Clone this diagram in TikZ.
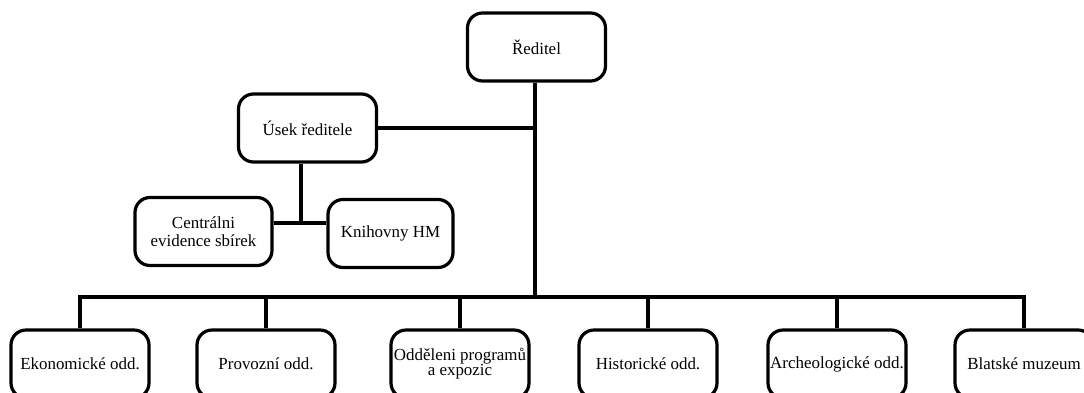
\documentclass[tikz,border=0pt]{standalone}
\usepackage{fontspec}
\setmainfont{Liberation Serif}
\begin{document}
\begin{tikzpicture}[x=1bp,y=-1bp,
  box/.style={draw, line width=3.2bp, rounded corners=15bp, minimum width=138bp, minimum height=68bp, inner sep=1bp, align=center, font=\fontsize{17}{18}\selectfont},
  conn/.style={line width=3.2bp}]
\useasboundingbox (0,0) rectangle (1084,392);
\node[box] (red) at (536.5,47) {Ředitel};
\node[box] (usek) at (307.5,128) {Úsek ředitele};
\node[box, minimum width=137bp] (cent) at (203.5,231.5) {Centrálni\\evidence sbírek};
\node[box, minimum width=125bp] (knih) at (390.5,233.5) {Knihovny HM};
\node[box] (eko) at (80,364) {Ekonomické odd.};
\node[box] (prov) at (266,364) {Provozní odd.};
\node[box, font=\fontsize{17}{15}\selectfont] (odd) at (460,364) {Odděleni programů\\a expozic};
\node[box] (hist) at (648,364) {Historické odd.};
\node[box] (arch) at (837,364) {Archeologické odd.};
\node[box] (blat) at (1024,364) {Blatské muzeum};
\coordinate (bus) at (535,297);
\coordinate (j1) at (535,128);
\coordinate (j2) at (301,223);
\draw[conn] (535,0 |- red.south) -- (bus);
\draw[conn] (usek.east) -- (j1);
\draw[conn] (301,0 |- usek.south) -- (j2);
\draw[conn] (cent.east |- j2) -- (knih.west |- j2);
\draw[conn] (eko.north) |- (blat.north |- bus) -- (blat.north);
\foreach \n in {prov,odd,hist,arch} \draw[conn] (\n.north) -- (\n.north |- bus);
\end{tikzpicture}
\end{document}
